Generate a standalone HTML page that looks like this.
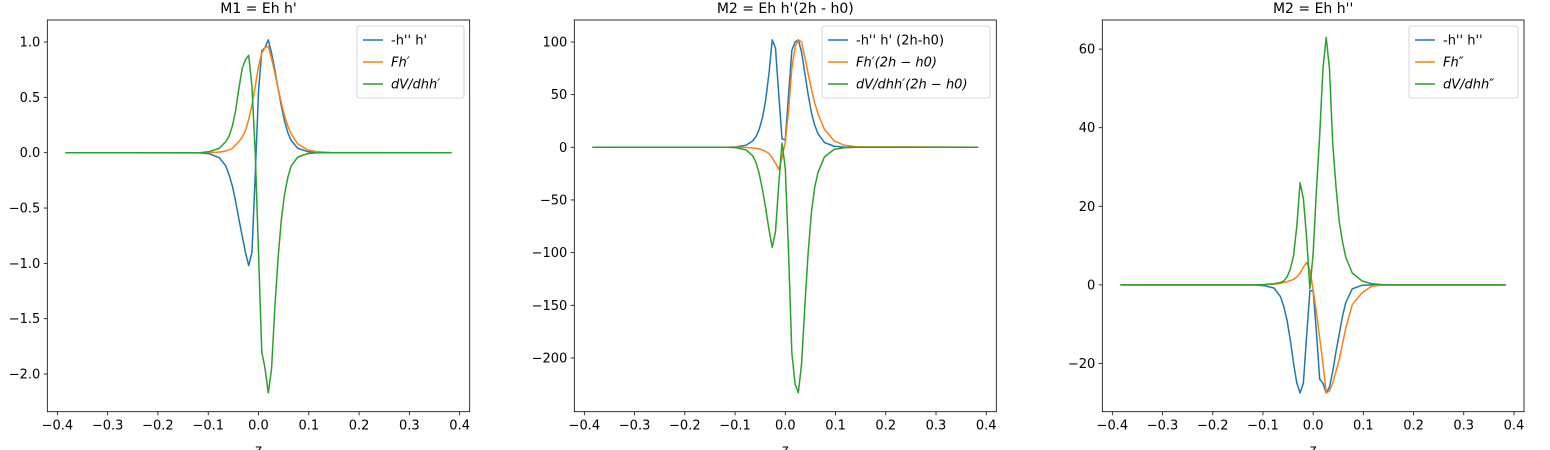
<!DOCTYPE html>
<html><head><meta charset="utf-8">
<style>
body{margin:0;background:#fff;}
svg{display:block;font-family:"DejaVu Sans","Liberation Sans",sans-serif;}
</style></head>
<body>
<svg id="fig" width="1550" height="450" viewBox="0 0 1550 450" xmlns="http://www.w3.org/2000/svg"></svg>
<script>
// shared grid (index k, step 0.0065), plus endpoints
const gridK = [-59.08,-18,-15,-12,-10,-9,-8,-7,-6,-5,-4,-3,-2,-1,0,1,2,3,4,5,6,7,8,9,10,12,15,18,22,59.08];
const STEP = 0.0065;
const xTicks = [-0.4,-0.3,-0.2,-0.1,0.0,0.1,0.2,0.3,0.4];
const xTickLabels = ["\u22120.4","\u22120.3","\u22120.2","\u22120.1","0.0","0.1","0.2","0.3","0.4"];

// chart 1
const c1Blue   = [0,-0.002,-0.01,-0.045,-0.12,-0.2,-0.3,-0.44,-0.6,-0.75,-0.9,-1.02,-0.9,-0.2,0.55,0.92,0.95,1.02,0.9,0.75,0.58,0.42,0.28,0.18,0.11,0.04,0.01,0.002,0,0];
const c1Orange = [0,0,0.002,0.005,0.015,0.025,0.04,0.07,0.1,0.14,0.2,0.3,0.43,0.6,0.78,0.9,0.95,0.96,0.85,0.72,0.58,0.45,0.33,0.24,0.17,0.08,0.025,0.008,0.002,0];
const c1Green  = [0,0,0.01,0.04,0.1,0.15,0.24,0.38,0.58,0.76,0.84,0.88,0.6,0.0,-0.9,-1.8,-1.95,-2.17,-1.95,-1.4,-0.95,-0.6,-0.37,-0.22,-0.12,-0.04,-0.008,0,0,0];
const c1YTicks = [1.0,0.5,0.0,-0.5,-1.0,-1.5,-2.0];
const c1YLabels = ["1.0","0.5","0.0","\u22120.5","\u22121.0","\u22121.5","\u22122.0"];

// chart 2
const c2Blue   = [0,0,0.4,2,6,10,17,28,45,70,102,94,50,8,7,50,92,100,102,90,70,50,33,21,13,4.5,1,0.2,0,0];
const c2Orange = [0,0,0,-0.2,-0.6,-1,-1.5,-2.5,-4,-6,-10,-15,-21,-10,5,35,75,95,102,100,85,70,55,42,32,17,6,2,0.5,0];
const c2Green  = [0,0,-0.4,-2.5,-8,-14,-25,-40,-58,-78,-95,-80,-35,4,-20,-100,-195,-225,-233,-205,-150,-100,-62,-38,-24,-9,-2,-0.4,0,0];
const c2YTicks = [100,50,0,-50,-100,-150,-200];
const c2YLabels = ["100","50","0","\u221250","\u2212100","\u2212150","\u2212200"];

// chart 3
const c3Blue   = [0,0,-0.2,-0.8,-3,-5.5,-9,-14,-20,-25,-27.5,-25,-13,-1.5,-1.5,-12,-24,-25,-27.5,-26,-22,-17,-12.5,-8,-4.5,-1,-0.1,0,0,0];
const c3Orange = [0,0,0.05,0.2,0.4,0.6,0.8,1.1,1.4,2,3,4.5,5.7,3.8,-1.3,-7,-13.5,-20,-27.5,-27,-25,-22,-19,-15,-11,-5,-2,-0.3,0,0];
const c3Green  = [0,0,0.1,0.3,0.6,1,2,4,7.5,15,26,22,12,-1,8,24,38,55,63,55,36,25,16,11,7,3,1,0.3,0,0];
const c3YTicks = [60,40,20,0,-20];
const c3YLabels = ["60","40","20","0","\u221220"];

const COLORS = ["#1f77b4","#ff7f0e","#2ca02c"];
const NS = "http://www.w3.org/2000/svg";
const svg = document.getElementById('fig');
function mk(tag, attrs, parent){const e=document.createElementNS(NS,tag);for(const k in attrs)e.setAttribute(k,attrs[k]);(parent||svg).appendChild(e);return e;}

const charts = [
 {name:"m1", title:"M1 = Eh h'", left:47.3, right:469.7, y0v:0, y0:152.7, ppu:110.67, series:[c1Blue,c1Orange,c1Green], yt:c1YTicks, yl:c1YLabels, legend:{x:357,w:107}},
 {name:"m2a", title:"M2 = Eh h'(2h - h0)", left:574.3, right:996.3, y0v:0, y0:147.3, ppu:1.0533, series:[c2Blue,c2Orange,c2Green], yt:c2YTicks, yl:c2YLabels, legend:{x:822,w:168}},
 {name:"m2b", title:"M2 = Eh h''", left:1102.3, right:1524, y0v:0, y0:284.9, ppu:3.93, series:[c3Blue,c3Orange,c3Green], yt:c3YTicks, yl:c3YLabels, legend:{x:1409,w:109}}
];
const TOP=20, BOTTOM=411.7;
const legendTexts = [["-h'' h'","Fh′","dV/dhh′"],["-h'' h' (2h-h0)","Fh′(2h − h0)","dV/dhh′(2h − h0)"],["-h'' h''","Fh″","dV/dhh″"]];

charts.forEach((c,ci)=>{
  const g = mk('g',{});
  
  
  const xs = (z)=> c.left + (z+0.42)/0.84*(c.right-c.left);
  const ys = (v)=> c.y0 - (v-c.y0v)*c.ppu;
  const t = mk('text',{x:(c.left+c.right)/2,y:13,'text-anchor':'middle','font-size':'14'},g);
  t.textContent=c.title;
  
  
  c.series.forEach((vals,si)=>{
    let d='';
    gridK.forEach((k,i)=>{const z=k*STEP; d+=(i?'L':'M')+xs(z).toFixed(2)+','+ys(vals[i]).toFixed(2);});
    const p = mk('path',{d:d,fill:'none',stroke:COLORS[si],'stroke-width':1.5,'stroke-linejoin':'round'},g);
    
    
  });
  const fr = mk('rect',{x:c.left,y:TOP,width:c.right-c.left,height:BOTTOM-TOP,fill:'none',stroke:'#000','stroke-width':0.8},g);
  
  
  xTicks.forEach((v,i)=>{
    const x=xs(v);
    mk('line',{x1:x,x2:x,y1:BOTTOM,y2:BOTTOM+3.5,stroke:'#000','stroke-width':0.8},g);
    const tl=mk('text',{x:x,y:BOTTOM+18,'text-anchor':'middle','font-size':'13'},g);
    tl.textContent=xTickLabels[i];
    
    
  });
  const xl=mk('text',{x:(c.left+c.right)/2,y:454,'text-anchor':'middle','font-size':'13'},g);
  xl.textContent='z';
  
  
  c.yt.forEach((v,i)=>{
    const y=ys(v);
    mk('line',{x1:c.left-3.5,x2:c.left,y1:y,y2:y,stroke:'#000','stroke-width':0.8},g);
    const tl=mk('text',{x:c.left-7,y:y+4.5,'text-anchor':'end','font-size':'13'},g);
    tl.textContent=c.yl[i];
    
    
  });
  const L=c.legend;
  const lg=mk('g',{},g);
  
  
  mk('rect',{x:L.x,y:26,width:L.w,height:72,rx:2,fill:'#fff','fill-opacity':0.8,stroke:'#ccc','stroke-width':0.8},lg);
  legendTexts[ci].forEach((txt,si)=>{
    const yy=40+si*22;
    mk('line',{x1:L.x+6,x2:L.x+26,y1:yy,y2:yy,stroke:COLORS[si],'stroke-width':1.5},lg);
    const tt=mk('text',{x:L.x+34,y:yy+4.5,'font-size':'13','font-style':si?'italic':'normal'},lg);
    tt.textContent=txt;
    
    
  });
});
</script>
</body></html>
